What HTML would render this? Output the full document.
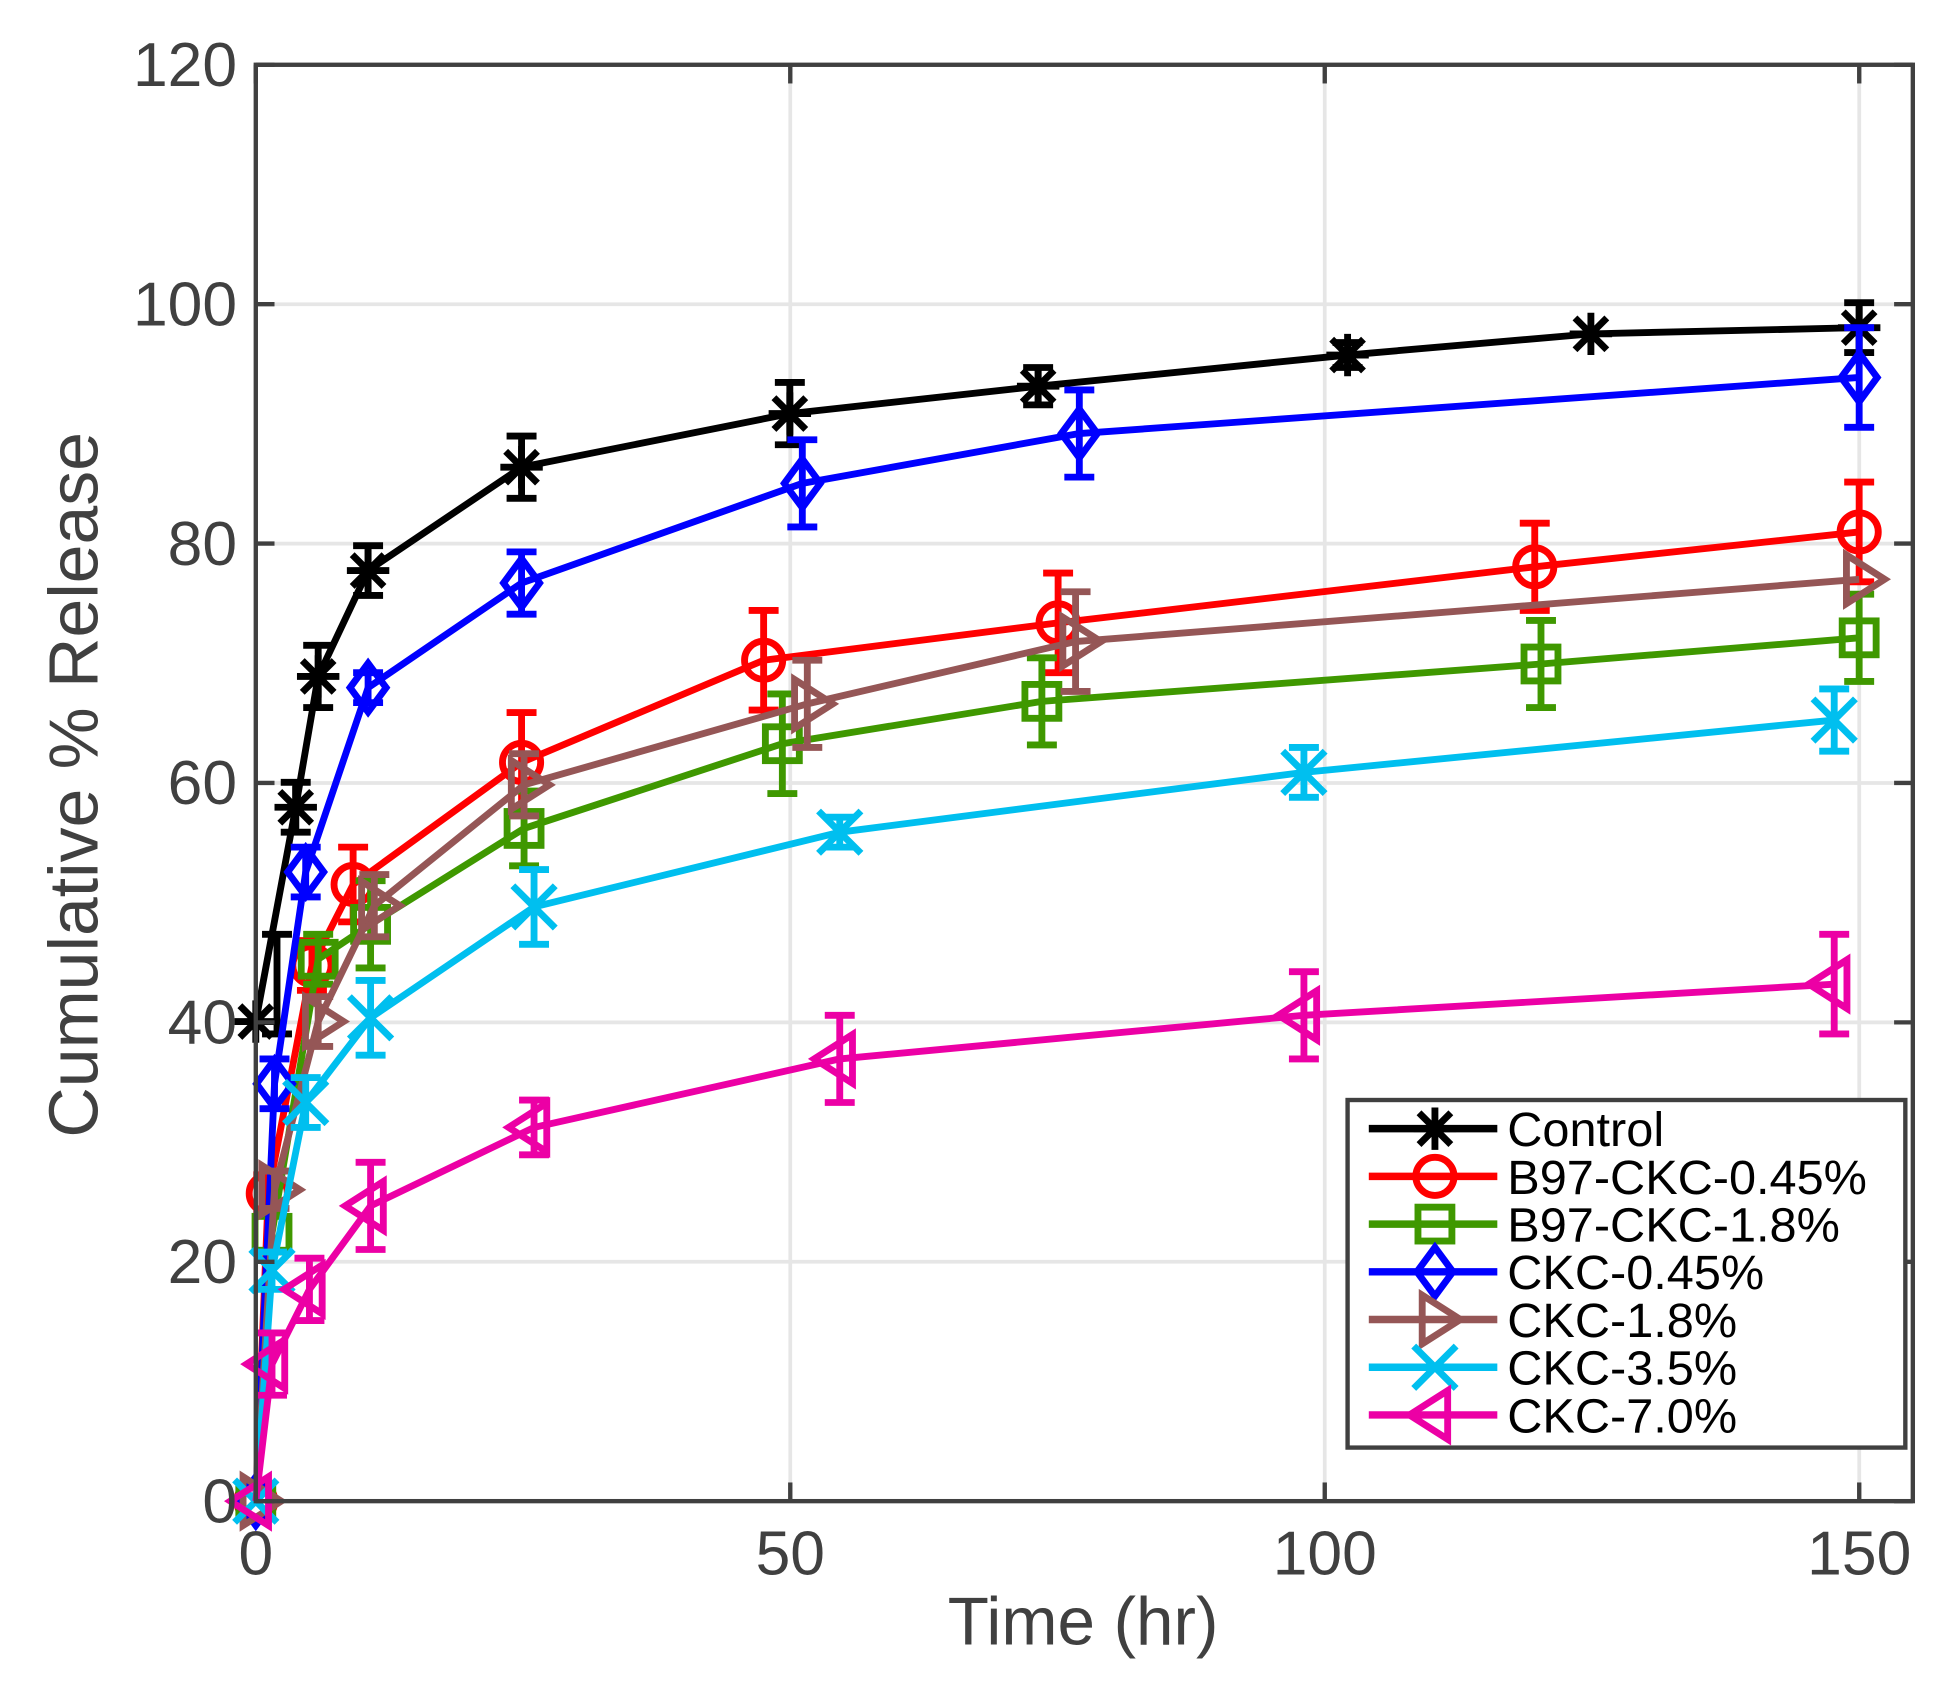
<!DOCTYPE html>
<html><head><meta charset="utf-8"><style>html,body{margin:0;padding:0;background:#fff}svg{display:block}</style></head>
<body>
<svg id="s" xmlns="http://www.w3.org/2000/svg" width="1954" height="1693" viewBox="0 0 1566 1359" preserveAspectRatio="none" font-family="Liberation Sans, Arial, sans-serif">
<rect width="1566" height="1359" fill="#fff"/>
<g id="grid" stroke="#e6e6e6" stroke-width="3"></g>
<g id="data"></g>
<rect x="205" y="52" width="1328" height="1153" fill="none" stroke="#404040" stroke-width="3.5"/>
<g id="ticks" stroke="#404040" stroke-width="3.5"></g>
<g id="labels" fill="#404040" font-size="50"></g>
<text x="868" y="1320" font-size="54" fill="#404040" text-anchor="middle">Time (hr)</text>
<text transform="translate(78,630) rotate(-90)" font-size="56" fill="#404040" text-anchor="middle">Cumulative % Release</text>
<g id="legend"></g>
</svg>
<script>
const NS="http://www.w3.org/2000/svg";
function el(p,t,a,txt){const e=document.createElementNS(NS,t);for(const k in a)e.setAttribute(k,a[k]);if(txt!=null)e.textContent=txt;p.appendChild(e);return e;}
const X=t=>205+t*8.567, Y=v=>1205-v*9.608;
const grid=document.getElementById('grid'),ticks=document.getElementById('ticks'),labels=document.getElementById('labels');
for(let v=20;v<=100;v+=20){el(grid,'line',{x1:205,x2:1533,y1:Y(v),y2:Y(v)});}
for(let t=50;t<=150;t+=50){el(grid,'line',{x1:X(t),x2:X(t),y1:52,y2:1205});}
for(let v=0;v<=120;v+=20){el(ticks,'line',{x1:205,x2:220,y1:Y(v),y2:Y(v)});el(ticks,'line',{x1:1533,x2:1518,y1:Y(v),y2:Y(v)});
 el(labels,'text',{x:190,y:Y(v)+17,'text-anchor':'end'},String(v));}
for(let t=0;t<=150;t+=50){el(ticks,'line',{x1:X(t),x2:X(t),y1:1205,y2:1190});el(ticks,'line',{x1:X(t),x2:X(t),y1:52,y2:67});
 el(labels,'text',{x:X(t),y:1264,'text-anchor':'middle'},String(t));}
const S=[
 {n:'Control',c:'#000000',m:'star',p:[[205,820,0],[237,648,20],[255,543,25],[295,458,20],[418,375,25],[633,332,25],[832,310,15],[1080,285,10],[1275,268,0],[1490,263,20]],extra:[[222,790,40]]},
 {n:'B97-CKC-0.45%',c:'#ff0000',m:'circle',p:[[205,1205,0],[215,958,15],[250,775,20],[283,710,30],[418,612,40],[612,530,40],[848,500,40],[1230,455,35],[1490,427,40]]},
 {n:'B97-CKC-1.8%',c:'#3f9800',m:'square',p:[[205,1205,0],[218,990,15],[255,770,20],[297,742,35],[420,665,30],[627,597,40],[835,563,35],[1235,533,35],[1490,512,35]]},
 {n:'CKC-0.45%',c:'#0000ff',m:'diamond',p:[[205,1205,0],[220,870,20],[245,700,20],[295,552,12],[418,468,25],[643,388,35],[865,348,35],[1490,303,40]]},
 {n:'CKC-1.8%',c:'#955656',m:'tri_r',p:[[205,1205,0],[220,955,15],[255,820,20],[300,727,25],[420,630,25],[647,565,35],[862,515,40],[1490,465,0]]},
 {n:'CKC-3.5%',c:'#00bfef',m:'x',p:[[205,1205,0],[218,1020,15],[245,885,20],[297,817,30],[428,728,30],[673,668,12],[1045,620,20],[1470,578,25]]},
 {n:'CKC-7.0%',c:'#ec00a5',m:'tri_l',p:[[205,1205,0],[218,1095,25],[248,1035,25],[297,968,35],[428,905,22],[673,850,35],[1045,815,35],[1470,790,40]]}
];
const SW=5.5;
function marker(g,m,x,y,c,r){const a={fill:'none',stroke:c,'stroke-width':SW};
 if(m==='circle')el(g,'circle',Object.assign({cx:x,cy:y,r:r*0.9},a));
 else if(m==='square')el(g,'rect',Object.assign({x:x-r*0.8,y:y-r*0.8,width:r*1.6,height:r*1.6},a));
 else if(m==='diamond')el(g,'polygon',Object.assign({points:`${x},${y-r*1.15} ${x+r*0.85},${y} ${x},${y+r*1.15} ${x-r*0.85},${y}`},a));
 else if(m==='tri_r')el(g,'polygon',Object.assign({points:`${x-r*0.6},${y-r*1.15} ${x+r*1.2},${y} ${x-r*0.6},${y+r*1.15}`},a));
 else if(m==='tri_l')el(g,'polygon',Object.assign({points:`${x+r*0.6},${y-r*1.15} ${x-r*1.2},${y} ${x+r*0.6},${y+r*1.15}`},a));
 else if(m==='x'){el(g,'path',Object.assign({d:`M${x-r},${y-r}L${x+r},${y+r}M${x-r},${y+r}L${x+r},${y-r}`},a));}
 else if(m==='star'){const d=r*0.75;el(g,'path',Object.assign({d:`M${x},${y-r}L${x},${y+r}M${x-r},${y}L${x+r},${y}M${x-d},${y-d}L${x+d},${y+d}M${x-d},${y+d}L${x+d},${y-d}`},a));}
}
function bar(g,x,y,e,c){el(g,'path',{d:`M${x},${y-e}L${x},${y+e}M${x-12},${y-e}L${x+12},${y-e}M${x-12},${y+e}L${x+12},${y+e}`,stroke:c,'stroke-width':SW,fill:'none'});}
const data=document.getElementById('data');
S.forEach(s=>{const g=el(data,'g',{});
 el(g,'polyline',{points:s.p.map(q=>q[0]+','+q[1]).join(' '),fill:'none',stroke:s.c,'stroke-width':SW,'stroke-linejoin':'round'});
 (s.extra||[]).forEach(q=>bar(g,q[0],q[1],q[2],s.c));
 s.p.forEach(q=>{if(q[2]>0)bar(g,q[0],q[1],q[2],s.c);marker(g,s.m,q[0],q[1],s.c,17);});
});
const lg=document.getElementById('legend');
el(lg,'rect',{x:1080,y:883,width:447,height:279,fill:'#fff',stroke:'#404040','stroke-width':3.5});
S.forEach((s,i)=>{const y=906+i*38.3;
 el(lg,'line',{x1:1097,x2:1200,y1:y,y2:y,stroke:s.c,'stroke-width':6});
 marker(lg,s.m,1150,y,s.c,17);
 el(lg,'text',{x:1208,y:y+14,'font-size':39,fill:'#000'},s.n);});
</script>
</body></html>
